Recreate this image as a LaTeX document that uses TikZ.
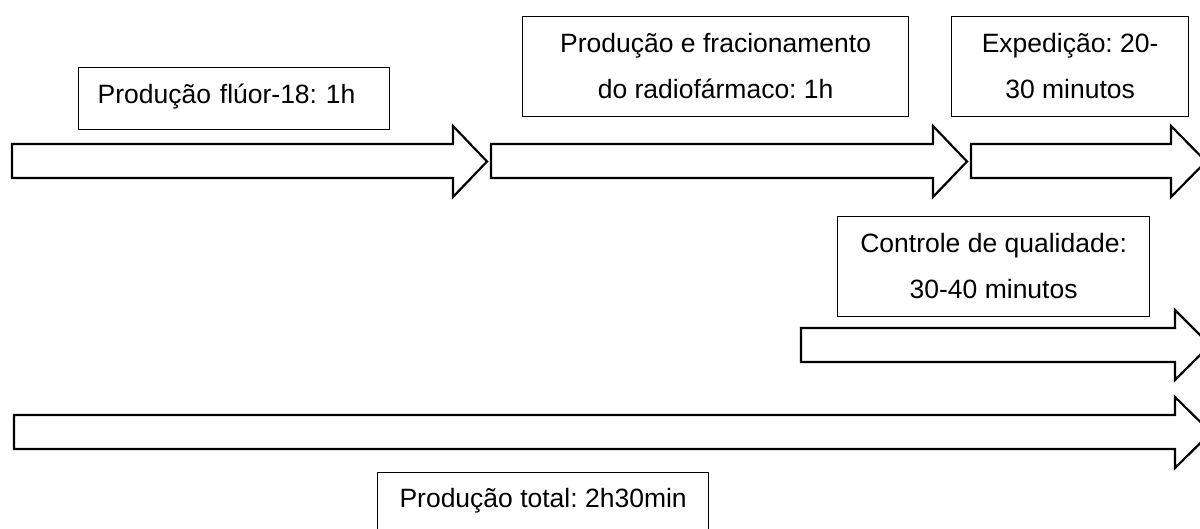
\documentclass[tikz,border=0pt]{standalone}
\usepackage{fontspec}
\setmainfont{Liberation Sans}
\frenchspacing
\newcommand\blockarr[9]{%
  \draw[barrow] (#2,#5) coordinate (#1-a) -- (#3,#5) -- (#3,#7) -- (#4,#9) coordinate (#1-tip) -- (#3,#8) -- (#3,#6) -- (#2,#6) -- cycle;}
\begin{document}
\begin{tikzpicture}[x=1pt,y=-1pt,
  box/.style={draw=black, line width=1.3pt, fill=white, inner xsep=0pt, inner ysep=4pt,
    font=\fontsize{26.5}{46}\selectfont\frenchspacing, align=center, anchor=north west},
  barrow/.style={draw=black, line width=2.2pt, fill=white, line join=miter}]
\useasboundingbox (0,0) rectangle (1200,529);
\clip (0,0) rectangle (1200,529);
% block arrows
\blockarr{a1}{12}{453}{487}{144}{178}{126}{197}{161.5}
\blockarr{a2}{491}{933}{967}{144}{178}{126}{197}{161.5}
\blockarr{a3}{971}{1171}{1206}{144}{178}{126}{197}{161.5}
\blockarr{a4}{801}{1175}{1210}{328}{362}{310}{380}{345}
\blockarr{a5}{14}{1175}{1211}{415}{449}{397}{468}{432.5}
% boxes
\node[box, minimum width=311pt, align=left, text width=273pt, inner xsep=19pt,
      text height=32pt, text depth=22pt] (b1) at (78,67) {Produção flúor-18: 1h};
\node[box, minimum width=386pt] (b2) at (522,16) {\strut Produção e fracionamento\\\strut do radiofármaco: 1h};
\node[box, minimum width=237pt] (b3) at (951,16) {\strut Expedição: 20-\\\strut 30 minutos};
\node[box, minimum width=312pt] (b4) at (837,216) {\strut Controle de qualidade:\\\strut 30-40 minutos};
\node[box, minimum width=331pt, text height=31pt, text depth=40pt] (b5) at (377,472) {Produção total: 2h30min};
\end{tikzpicture}
\end{document}
